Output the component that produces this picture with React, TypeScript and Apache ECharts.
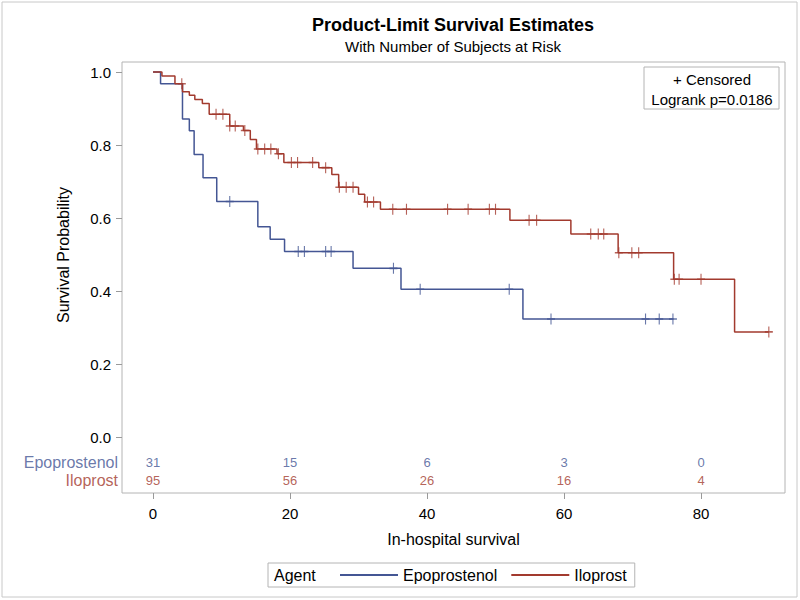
import React, { useEffect, useRef } from 'react';
import * as echarts from 'echarts';

// Kaplan-Meier step points (time, survival)
const epoTimes = [0, 1.1, 4.3, 5.3, 6.0, 7.3, 9.3, 15.3, 17.1, 19.2, 29.2, 36.2, 54.0, 76.0];
const epoSurv = [1.0, 0.968, 0.871, 0.839, 0.774, 0.71, 0.645, 0.576, 0.542, 0.508, 0.462, 0.405, 0.323, 0.323];
const epoCensor = [11.2, 21.2, 22.1, 25.2, 26.0, 35.1, 39.0, 52.0, 58.1, 71.9, 73.9, 75.9];

const iloTimes = [0, 1.3, 3.2, 4.3, 5.3, 6.1, 7.2, 8.2, 11.2, 13.2, 14.2, 15.1, 18.1, 19.1, 24.2, 26.1, 27.1, 30.0, 30.9, 33.2, 52.1, 61.0, 67.9, 76.0, 84.9, 89.9];
const iloSurv = [1.0, 0.989, 0.968, 0.946, 0.936, 0.925, 0.914, 0.884, 0.852, 0.84, 0.815, 0.789, 0.776, 0.752, 0.738, 0.719, 0.684, 0.665, 0.644, 0.624, 0.594, 0.556, 0.505, 0.432, 0.288, 0.288];
const iloCensor = [4.2, 9.2, 10.2, 11.2, 12.0, 13.4, 15.3, 16.3, 17.2, 18.3, 20.2, 21.1, 23.3, 25.2, 27.2, 28.2, 29.2, 31.3, 32.2, 35.0, 37.0, 43.0, 46.0, 49.1, 50.0, 54.9, 56.0, 63.9, 65.0, 65.8, 68.0, 69.9, 70.9, 76.1, 76.8, 80.0, 89.9];

// Number at risk table
const riskTimes = [0, 20, 40, 60, 80];
const epoAtRisk = [31, 15, 6, 3, 0];
const iloAtRisk = [95, 56, 26, 16, 4];

const xTicks = [0, 20, 40, 60, 80];
const yTicks = [0, 0.2, 0.4, 0.6, 0.8, 1.0];

const BLUE = '#445694';
const RED = '#A23A2E';
const FONT = "'Liberation Sans', Arial, sans-serif";

const X_MIN = -4.53;
const X_MAX = 92.26;
const Y_MIN = -0.1534;
const Y_MAX = 1.0274;
const EPO_ROW_Y = -0.0712;
const ILO_ROW_Y = -0.1205;

function survAt(times: number[], surv: number[], t: number) {
  let v = surv[0];
  for (let i = 0; i < times.length; i++) {
    if (times[i] <= t) v = surv[i];
  }
  return v;
}

export default function App() {
  const ref = useRef<HTMLDivElement>(null);
  useEffect(() => {
    if (!ref.current) return;
    const chart = echarts.init(ref.current, undefined, { renderer: 'svg' });
    const plus = 'path://M0,5L10,5M5,0L5,10';
    const option: any = {
      animation: false,
      backgroundColor: '#ffffff',
      textStyle: { fontFamily: FONT },
      grid: {
        left: 122, right: 15, top: 62, bottom: 107,
        show: true, borderColor: '#b4b4b4', borderWidth: 1, backgroundColor: 'transparent',
      },
      xAxis: {
        type: 'value', min: X_MIN, max: X_MAX,
        axisLine: { show: false, onZero: false },
        splitLine: { show: false },
        axisTick: { show: true, customValues: xTicks, length: 6, inside: false, lineStyle: { color: '#9a9a9a' } },
        axisLabel: { customValues: xTicks, margin: 13, fontSize: 15, color: '#000', fontFamily: FONT },
        name: 'In-hospital survival', nameLocation: 'middle', nameGap: 38,
        nameTextStyle: { fontSize: 16, color: '#000', fontFamily: FONT },
      },
      yAxis: {
        type: 'value', min: Y_MIN, max: Y_MAX,
        axisLine: { show: false, onZero: false },
        splitLine: { show: false },
        axisTick: { show: true, customValues: yTicks, length: 6, inside: false, lineStyle: { color: '#9a9a9a' } },
        axisLabel: {
          customValues: yTicks, margin: 11, fontSize: 15, color: '#000', fontFamily: FONT,
          formatter: (v: number) => v.toFixed(1),
        },
      },
      legend: {
        left: 268, top: 563,
        padding: [4, 8, 4, 72],
        borderColor: '#b4b4b4', borderWidth: 1,
        itemWidth: 58, itemHeight: 2, itemGap: 14,
        textStyle: { fontSize: 16, color: '#000', fontFamily: FONT },
        data: [
          { name: 'Epoprostenol', icon: 'rect' },
          { name: 'Iloprost', icon: 'rect' },
        ],
      },
      graphic: [
        { type: 'rect', shape: { x: 2, y: 2, width: 795, height: 595 }, style: { fill: 'none', stroke: '#c8c8c8', lineWidth: 1 }, silent: true },
        { type: 'text', x: 453, y: 25, style: { text: 'Product-Limit Survival Estimates', fontSize: 18, fontWeight: 'bold', fontFamily: FONT, fill: '#000', align: 'center', verticalAlign: 'middle' } },
        { type: 'text', x: 453, y: 46, style: { text: 'With Number of Subjects at Risk', fontSize: 15, fontFamily: FONT, fill: '#000', align: 'center', verticalAlign: 'middle' } },
        { type: 'text', x: 63, y: 255, rotation: Math.PI / 2, style: { text: 'Survival Probability', fontSize: 16, fontFamily: FONT, fill: '#000', align: 'center', verticalAlign: 'middle' } },
        { type: 'rect', shape: { x: 644, y: 67, width: 135, height: 42 }, style: { fill: '#fff', stroke: '#b4b4b4', lineWidth: 1 } },
        { type: 'text', x: 712, y: 79, style: { text: '+ Censored', fontSize: 15, fontFamily: FONT, fill: '#000', align: 'center', verticalAlign: 'middle' } },
        { type: 'text', x: 712, y: 99, style: { text: 'Logrank p=0.0186', fontSize: 15, fontFamily: FONT, fill: '#000', align: 'center', verticalAlign: 'middle' } },
        { type: 'text', x: 274, y: 575, style: { text: 'Agent', fontSize: 16, fontFamily: FONT, fill: '#000', align: 'left', verticalAlign: 'middle' } },
      ],
      series: [
        {
          name: 'Epoprostenol', type: 'line', step: 'end', symbol: 'none', clip: false,
          lineStyle: { color: BLUE, width: 1.5 }, itemStyle: { color: BLUE },
          data: epoTimes.map((t, i) => [t, epoSurv[i]]),
        },
        {
          name: 'Iloprost', type: 'line', step: 'end', symbol: 'none', clip: false,
          lineStyle: { color: RED, width: 1.5 }, itemStyle: { color: RED },
          data: iloTimes.map((t, i) => [t, iloSurv[i]]),
        },
        {
          name: 'Epoprostenol censored', type: 'scatter', symbol: plus, symbolSize: [8, 11], clip: false,
          itemStyle: { color: 'transparent', borderColor: BLUE, borderWidth: 1.3 },
          data: epoCensor.map((t) => [t, survAt(epoTimes, epoSurv, t)]),
        },
        {
          name: 'Iloprost censored', type: 'scatter', symbol: plus, symbolSize: [8, 11], clip: false,
          itemStyle: { color: 'transparent', borderColor: RED, borderWidth: 1.3 },
          data: iloCensor.map((t) => [t, survAt(iloTimes, iloSurv, t)]),
        },
        {
          name: 'Epoprostenol at risk', type: 'scatter', symbolSize: 0, clip: false,
          label: { show: true, position: 'inside', formatter: (p: any) => String(p.value[2]), color: BLUE, fontSize: 13, fontFamily: FONT },
          data: riskTimes.map((t, i) => [t, EPO_ROW_Y, epoAtRisk[i]]),
        },
        {
          name: 'Iloprost at risk', type: 'scatter', symbolSize: 0, clip: false,
          label: { show: true, position: 'inside', formatter: (p: any) => String(p.value[2]), color: RED, fontSize: 13, fontFamily: FONT },
          data: riskTimes.map((t, i) => [t, ILO_ROW_Y, iloAtRisk[i]]),
        },
        {
          name: 'Row labels', type: 'scatter', symbolSize: 0, clip: false,
          label: {
            show: true, position: 'left', distance: 4, fontSize: 16, fontFamily: FONT,
            formatter: (p: any) => p.value[2],
          },
          data: [
            { value: [X_MIN, EPO_ROW_Y, 'Epoprostenol'], label: { color: BLUE } },
            { value: [X_MIN, ILO_ROW_Y, 'Iloprost'], label: { color: RED } },
          ],
        },
      ],
    };
    chart.setOption(option);
    return () => chart.dispose();
  }, []);
  return (
    <div style={{ position: 'absolute', left: 0, top: 0, width: 800, height: 600 }}>
      <div ref={ref} style={{ width: 800, height: 600 }} />
    </div>
  );
}
